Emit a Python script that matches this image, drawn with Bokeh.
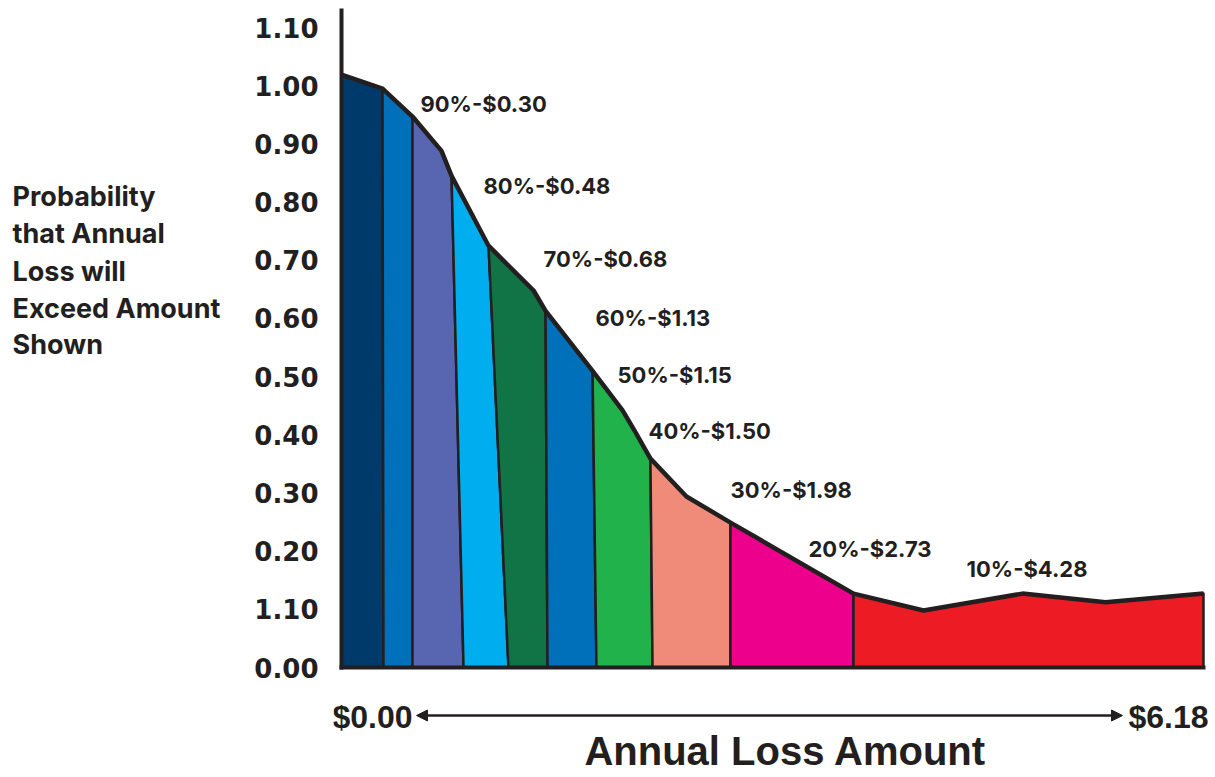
import numpy as np
from bokeh.plotting import figure
from bokeh.layouts import row
from bokeh.models import Range1d, FixedTicker, Arrow, NormalHead, ColumnDataSource
from bokeh.core.properties import value
from bokeh.embed import file_html
from bokeh.resources import INLINE

# ---- data ----
curve_x = [0.000, 0.294, 0.509, 0.717, 0.789, 1.054, 1.377, 1.463, 1.800, 2.015,
           2.101, 2.215, 2.473, 2.789, 3.671, 4.173, 4.882, 5.478, 6.180]
curve_y = [1.019, 0.995, 0.947, 0.888, 0.845, 0.725, 0.648, 0.613, 0.510, 0.442,
           0.407, 0.359, 0.294, 0.249, 0.127, 0.098, 0.127, 0.112, 0.127]
band_top_x = [0.000, 0.294, 0.509, 0.789, 1.054, 1.463, 1.800, 2.215, 2.789, 3.671, 6.180]
band_bottom_x = [0.000, 0.301, 0.509, 0.875, 1.197, 1.477, 1.828, 2.230, 2.789, 3.671, 6.180]
band_colors = ["#003A6B", "#0070BA", "#5865B0", "#00AEEF", "#107446",
               "#0070BA", "#22B24C", "#F08B79", "#EC008C", "#ED1C24"]
pct = [90, 80, 70, 60, 50, 40, 30, 20, 10]
loss = [0.30, 0.48, 0.68, 1.13, 1.15, 1.50, 1.98, 2.73, 4.28]
y_ticks = [0.0, 0.1, 0.2, 0.3, 0.4, 0.5, 0.6, 0.7, 0.8, 0.9, 1.0, 1.1]
y_tick_labels = ["0.00", "1.10", "0.20", "0.30", "0.40", "0.50", "0.60",
                 "0.70", "0.80", "0.90", "1.00", "1.10"]
x_min_label, x_max_label = "$0.00", "$6.18"
y_title_lines = ["Probability", "that Annual", "Loss will", "Exceed Amount", "Shown"]
x_title = "Annual Loss Amount"

INK = "#231F20"

# ---- layout constants (page pixel mapping) ----
W, H = 1213, 775
LEFT_W = 245
PXX = 139.48   # px per x unit
PXY = 581.8    # px per y unit


def dx(px):  # page px -> data x
    return (px - 341) / PXX


def dy(py):  # page py -> data y
    return (667 - py) / PXY


y_range = Range1d(dy(H), dy(0))

# left panel with the y title
t = figure(width=LEFT_W, height=H, output_backend="svg", toolbar_location=None,
           x_axis_location=None, y_axis_location=None,
           x_range=Range1d(0, LEFT_W), y_range=y_range,
           min_border_left=0, min_border_right=0, min_border_top=0, min_border_bottom=0)
t.outline_line_color = None
t.grid.visible = False
t.text(x=[12] * len(y_title_lines), y=[dy(c) for c in [196, 233, 271, 308, 344]],
       text=y_title_lines, text_font=value("Inter"), text_font_style="bold",
       text_font_size="27px", text_color=INK, text_baseline="middle", text_align="left")

# main chart
p = figure(width=W - LEFT_W, height=H, output_backend="svg", toolbar_location=None,
           x_axis_location=None, y_axis_location="left",
           x_range=Range1d(dx(333), dx(1211)), y_range=y_range,
           min_border_left=333 - LEFT_W, min_border_right=W - 1211,
           min_border_top=0, min_border_bottom=0)
p.outline_line_color = None
p.grid.visible = False

ax = p.yaxis[0]
ax.ticker = FixedTicker(ticks=y_ticks)
ax.major_label_overrides = {t_: l for t_, l in zip(y_ticks, y_tick_labels)}
ax.axis_line_color = None
ax.major_tick_line_color = None
ax.minor_tick_line_color = None
ax.major_tick_out = 0
ax.major_tick_in = 0
ax.major_label_standoff = 15
ax.major_label_text_font = "DejaVu Sans"
ax.major_label_text_font_style = "bold"
ax.major_label_text_font_size = "26px"
ax.major_label_text_color = INK

# ---- band polygons ----
cx = np.array(curve_x)
cy = np.array(curve_y)
xs, ys = [], []
for i in range(len(band_colors)):
    a, b = band_top_x[i], band_top_x[i + 1]
    m = (cx >= a - 1e-9) & (cx <= b + 1e-9)
    xs.append(list(cx[m]) + [band_bottom_x[i + 1], band_bottom_x[i]])
    ys.append(list(cy[m]) + [0.0, 0.0])
p.patches(xs=xs, ys=ys, fill_color=band_colors, line_color=INK, line_width=2.5,
          line_join="round")

# top curve
p.line(curve_x, curve_y, line_color=INK, line_width=4.5, line_join="round")
# axis lines
p.segment(x0=[0, 0], y0=[0, 0], x1=[0, curve_x[-1]], y1=[dy(10), 0],
          line_color=INK, line_width=4, line_cap="square")

# ---- percentage labels ----
lab_px = [420, 483, 543, 595, 617, 648, 730, 808, 966]
lab_py = [103, 185, 258, 317, 374, 430, 489, 548, 568]
src = ColumnDataSource(dict(
    x=[dx(v) for v in lab_px], y=[dy(v) for v in lab_py],
    t=[f"{a}%-${b:.2f}" for a, b in zip(pct, loss)]))
p.text(x="x", y="y", text="t", source=src, text_font=value("Inter"),
       text_font_style="bold", text_font_size="22px", text_color=INK,
       text_baseline="middle", text_align="left")

# ---- x annotations ----
p.text(x=[dx(332)], y=[dy(716)], text=[x_min_label], text_font=value("Liberation Sans"),
       text_font_style="bold", text_font_size="32px", text_color=INK,
       text_baseline="middle", text_align="left")
p.text(x=[dx(1208)], y=[dy(716)], text=[x_max_label], text_font=value("Liberation Sans"),
       text_font_style="bold", text_font_size="32px", text_color=INK,
       text_baseline="middle", text_align="right")
p.add_layout(Arrow(x_start=dx(416), y_start=dy(715), x_end=dx(1122), y_end=dy(715),
                   line_color=INK, line_width=2.5,
                   start=NormalHead(size=11, fill_color=INK, line_color=INK),
                   end=NormalHead(size=11, fill_color=INK, line_color=INK)))
p.text(x=[dx(785)], y=[dy(750)], text=[x_title], text_font=value("Liberation Sans"),
       text_font_style="bold", text_font_size="40px", text_color=INK,
       text_baseline="middle", text_align="center")

open("out.html", "w").write(file_html(row(t, p, spacing=0), INLINE))
